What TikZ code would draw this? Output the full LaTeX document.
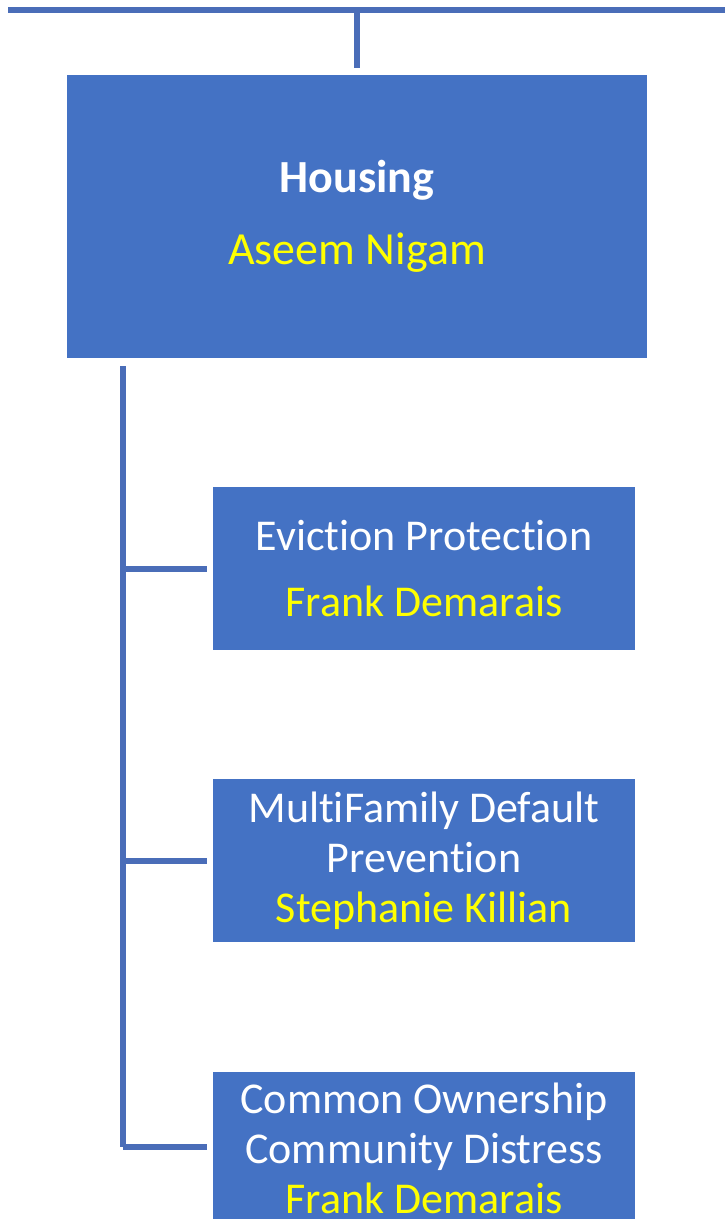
\documentclass[tikz,border=0pt]{standalone}
\usepackage{fontspec}
\setmainfont[Ligatures=NoCommon]{Carlito}
\definecolor{boxblue}{HTML}{4472C4}
\definecolor{lineblue}{HTML}{4A6DB8}
\definecolor{nameyellow}{HTML}{FFFF00}
\begin{document}
\begin{tikzpicture}[
        x=0.5pt, y=-0.5pt,
        unit/.style={rectangle, fill=boxblue, text=white, align=center, inner sep=0pt,
            font=\fontsize{22}{25}\selectfont},
        head/.style={unit, minimum width=290pt, minimum height=141.5pt,
            font=\fontsize{23}{26}\selectfont},
        sub/.style={unit, minimum width=211pt, minimum height=81.5pt},
        link/.style={draw=lineblue, line width=3pt}
    ]
    \useasboundingbox (0,0) rectangle (725,1219);
    \clip (0,0) rectangle (725,1219);
    \node[head] (hous) at (357,216.5) {\textbf{Housing}\\[10pt]\textcolor{nameyellow}{Aseem Nigam}};
    \node[sub] (evict) at (424,568.5) {Eviction Protection\\[8pt]\textcolor{nameyellow}{Frank Demarais}};
    \node[sub] (multi) at (424,860.5) {MultiFamily Default\\Prevention\\\textcolor{nameyellow}{Stephanie Killian}};
    \node[sub, minimum height=76pt] (common) at (424,1148) {Common Ownership\\Community Distress\\\textcolor{nameyellow}{Frank Demarais}};
    \coordinate (topl) at (8,10);
    \coordinate (topr) at (725,10);
    \coordinate (trunk) at (357,10);
    \coordinate (spine) at (123,366);
    \coordinate (spinebot) at (123,1147);
    \draw[link] (topl) -- (topr);
    \draw[link, shorten >=3.5pt] (trunk) -- (hous.north);
    \draw[link] (spine) -- (spinebot);
    \draw[link, shorten >=3pt] (spine |- evict.west) -- (evict.west);
    \draw[link, shorten >=3pt] (spine |- multi.west) -- (multi.west);
    \draw[link, shorten >=3pt] (spinebot) -- (spinebot -| common.west);
    \fill[boxblue] (common.south west) rectangle (common.east |- 0,1219);
    \end{tikzpicture}
\end{document}
